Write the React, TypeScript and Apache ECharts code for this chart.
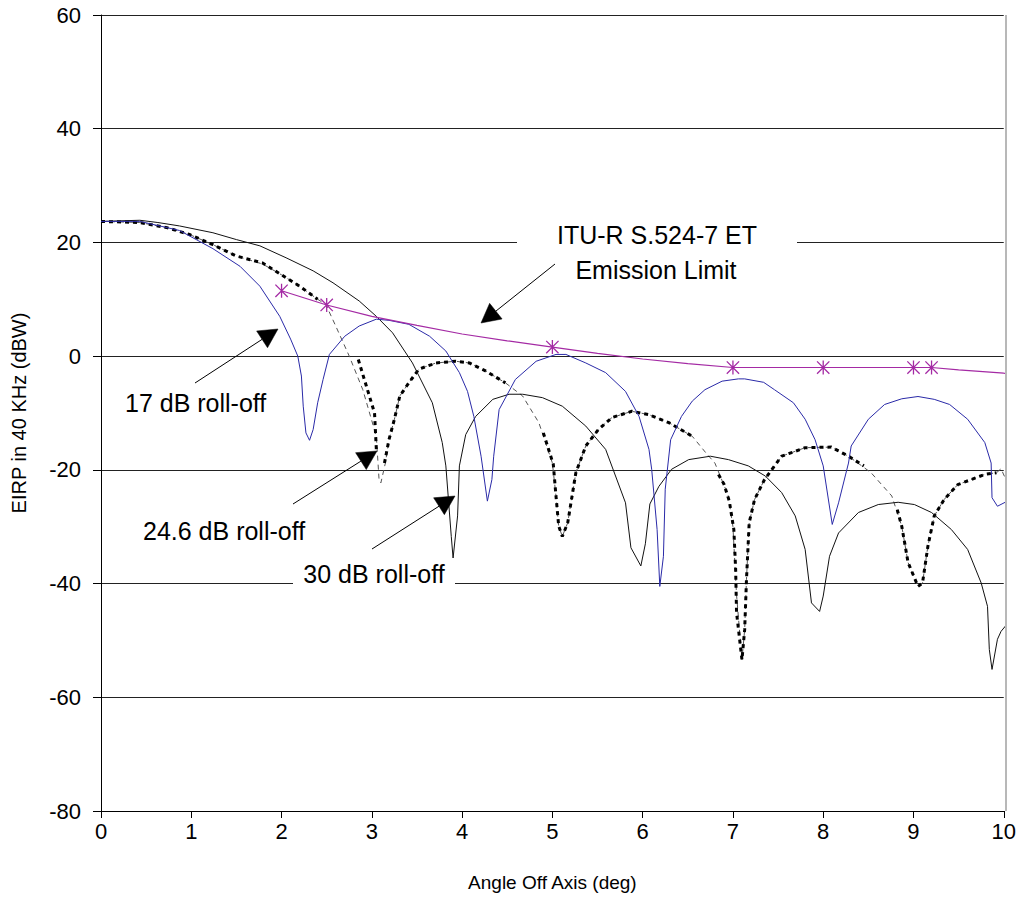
import React, { useEffect, useRef } from "react";
import * as echarts from "echarts";

// ---------- data ----------
const X_TICKS_MIN = 0;
const X_TICKS_MAX = 10;
const Y_MIN = -80;
const Y_MAX = 60;

// 17 dB roll-off (blue)
const ROLLOFF_17: [number, number][] = [
  [0, 23.7], [0.43, 23.7], [0.87, 22.1], [1.24, 18.9], [1.54, 15.8], [1.76, 12.3], [1.98, 7.0],
  [2.1, 3.0], [2.18, 0], [2.22, -3.5], [2.24, -8.8], [2.27, -13.5], [2.31, -14.8], [2.35, -12.9],
  [2.4, -8.2], [2.46, -4.1], [2.53, 0.3], [2.7, 3.5], [2.86, 5.3], [3.05, 6.5], [3.19, 6.3],
  [3.41, 5.6], [3.64, 3.5], [3.82, 0.9], [3.97, -2.9], [4.06, -6.2], [4.13, -10.6], [4.21, -17.6],
  [4.28, -25.5], [4.33, -21.7], [4.35, -17.6], [4.41, -9.4], [4.59, -4.1], [4.82, -0.9], [5.04, 0.3],
  [5.15, 0.3], [5.37, -1.2], [5.59, -2.9], [5.81, -6.2], [5.96, -10.6], [6.07, -16.4], [6.1, -19.9],
  [6.16, -30.5], [6.19, -40.5], [6.23, -35.2], [6.25, -23.4], [6.31, -14.7], [6.43, -10.6], [6.55, -7.9],
  [6.69, -5.9], [6.88, -4.4], [7.06, -4.0], [7.13, -4.0], [7.34, -4.6], [7.46, -5.9], [7.67, -8.2],
  [7.8, -11.1], [7.91, -14.7], [8.0, -19.3], [8.1, -29.6], [8.17, -25.8], [8.28, -18.8], [8.31, -15.8],
  [8.5, -11.1], [8.68, -8.5], [8.87, -7.5], [9.05, -7.1], [9.23, -7.6], [9.4, -8.5], [9.6, -11.1],
  [9.79, -15.2], [9.86, -18.8], [9.87, -24.9], [9.93, -26.4], [10.04, -25.5], [10.09, -24.3],
];

// 30 dB roll-off (black solid)
const ROLLOFF_30: [number, number][] = [
  [0, 23.7], [0.43, 23.9], [0.63, 23.5], [0.87, 22.9], [1.24, 21.7], [1.5, 20.5], [1.76, 19.4],
  [2.05, 17.3], [2.35, 15.0], [2.57, 12.9], [2.86, 9.7], [3.05, 7.0], [3.23, 4.1], [3.45, -1.2],
  [3.67, -8.2], [3.78, -15.2], [3.82, -19.3], [3.88, -31.7], [3.9, -35.5], [3.95, -28.1], [3.97, -19.3],
  [4.04, -13.8], [4.15, -10.6], [4.34, -7.6], [4.52, -6.7], [4.67, -6.7], [4.89, -7.3], [5.11, -8.8],
  [5.37, -12.3], [5.59, -16.4], [5.81, -25.8], [5.87, -33.7], [5.98, -36.9], [6.03, -33.0], [6.08, -26.0],
  [6.18, -22.9], [6.32, -19.9], [6.51, -18.2], [6.75, -17.6], [6.95, -18.2], [7.17, -19.3], [7.36, -21.1],
  [7.54, -24.0], [7.69, -28.1], [7.8, -34.0], [7.87, -43.4], [7.96, -44.9], [8.0, -42.2], [8.07, -35.2],
  [8.17, -31.1], [8.39, -27.5], [8.61, -26.1], [8.83, -25.7], [9.01, -26.1], [9.2, -27.5], [9.42, -30.5],
  [9.6, -34.0], [9.75, -39.9], [9.82, -44.0], [9.84, -51.6], [9.87, -55.1], [9.93, -49.8], [9.97, -48.4],
  [10.08, -46.3],
];

// 24.6 dB roll-off, thin dashed trace (continuous)
const ROLLOFF_24_THIN: [number, number][] = [
  [0, 23.7], [0.43, 23.5], [0.73, 22.6], [0.98, 21.4], [1.24, 19.6], [1.5, 17.6], [1.79, 16.2],
  [2.0, 14.3], [2.2, 12.3], [2.4, 10.0], [2.49, 9.1], [2.6, 5.3], [2.75, 0], [2.9, -5.9], [3.05, -14.1],
  [3.08, -21.7], [3.1, -22.3], [3.15, -18.8], [3.19, -14.7], [3.25, -11.1], [3.31, -7.0], [3.41, -4.7],
  [3.52, -2.3], [3.71, -1.2], [3.93, -0.9], [4.08, -1.2], [4.26, -2.6], [4.48, -4.7], [4.67, -7.0],
  [4.85, -11.7], [5.0, -18.8], [5.04, -24.6], [5.07, -29.9], [5.11, -31.7], [5.17, -29.3], [5.26, -20.5],
  [5.37, -15.8], [5.51, -12.9], [5.66, -10.8], [5.88, -9.7], [6.07, -10.3], [6.29, -11.7], [6.55, -14.1],
  [6.7, -17.0], [6.8, -18.8], [6.95, -24.6], [7.0, -30.0], [7.04, -42.0], [7.1, -53.4], [7.13, -48.1],
  [7.15, -39.3], [7.18, -29.3], [7.24, -25.2], [7.35, -21.7], [7.54, -17.6], [7.8, -16.1], [8.09, -16.0],
  [8.28, -17.6], [8.53, -20.5], [8.76, -24.6], [8.87, -29.9], [8.94, -36.3], [9.05, -40.5], [9.1, -39.9],
  [9.16, -33.4], [9.23, -28.1], [9.34, -25.2], [9.49, -22.6], [9.64, -21.7], [9.79, -20.8], [9.92, -20.5],
  [9.97, -19.8], [10.04, -22.3], [10.08, -24.0],
];

// 24.6 dB roll-off, heavy dotted trace (null = gap)
const ROLLOFF_24_HEAVY: ([number, number] | null)[] = [
  [0, 23.7], [0.43, 23.5], [0.73, 22.6], [0.98, 21.4], [1.24, 19.6], [1.5, 17.6], [1.79, 16.4],
  [2.0, 14.3], [2.2, 12.3], [2.4, 10.0], null,
  [2.85, -0.6], [2.94, -5.3], [3.03, -10.0], [3.05, -16.4], null,
  [3.14, -18.8], [3.19, -14.7], [3.25, -11.1], [3.31, -7.0], [3.41, -4.7], [3.52, -2.3], [3.71, -1.2],
  [3.93, -0.9], [4.08, -1.2], [4.26, -2.6], [4.48, -4.7], null,
  [4.9, -13.5], [5.01, -19.0], [5.04, -24.6], [5.07, -29.9], [5.11, -31.7], [5.17, -29.3], [5.26, -20.5],
  [5.37, -15.8], [5.51, -12.9], [5.66, -10.8], [5.88, -9.7], [6.07, -10.3], [6.29, -11.7], [6.55, -14.1], null,
  [6.84, -20.8], [6.9, -22.5], [6.96, -25.5], [7.01, -30.5], [7.03, -37.5], [7.04, -45.1], [7.1, -53.4],
  [7.13, -48.1], [7.15, -39.3], [7.18, -29.3], [7.24, -25.2], [7.35, -21.7], [7.54, -17.6], [7.8, -16.1],
  [8.09, -16.0], [8.28, -17.6], [8.45, -19.3], null,
  [8.82, -27.0], [8.87, -29.9], [8.94, -36.3], [9.05, -40.5], [9.1, -39.9], [9.16, -33.4], [9.23, -28.1],
  [9.34, -25.2], [9.49, -22.6], [9.64, -21.7], [9.79, -20.8], [9.92, -20.5], null,
  [10.04, -22.3], [10.08, -24.0],
];

// ITU-R S.524-7 ET emission limit (magenta)
const LIMIT_X = [2, 2.5, 3, 3.5, 4, 4.5, 5, 5.5, 6, 6.5, 7, 7.5, 8, 8.5, 9, 9.2, 9.5, 10, 10.1];
const LIMIT_Y = [11.5, 9.0, 7.0, 5.4, 3.9, 2.7, 1.6, 0.5, -0.5, -1.3, -2.0, -2.0, -2.0, -2.0, -2.0, -2.0, -2.4, -3.0, -3.1];
const LIMIT_STAR_X = [2, 2.5, 5, 7, 8, 9, 9.2];

const FONT = '"Liberation Sans", Arial, Helvetica, sans-serif';
const STAR = "path://M5,0L5,10M0.6,0.6L9.4,9.4M0.6,9.4L9.4,0.6";

const GRID = { left: 101, right: 13, top: 15, bottom: 96 };
const W = 1019;
const H = 907;

function arrow(sx: number, sy: number, tx: number, ty: number) {
  const dx = tx - sx, dy = ty - sy;
  const len = Math.hypot(dx, dy);
  const ux = dx / len, uy = dy / len;
  const headLen = 19, halfW = 10;
  const bx = tx - ux * headLen, by = ty - uy * headLen;
  const px = -uy, py = ux;
  return [
    {
      type: "line",
      z: 100,
      shape: { x1: sx, y1: sy, x2: bx, y2: by },
      style: { stroke: "#000", lineWidth: 1 },
    },
    {
      type: "polygon",
      z: 100,
      shape: {
        points: [
          [tx, ty],
          [bx + px * halfW, by + py * halfW],
          [bx - px * halfW, by - py * halfW],
        ],
      },
      style: { fill: "#000", stroke: "#000", lineWidth: 0.5 },
    },
  ];
}

function txt(text: string, x: number, y: number, align: string, size = 25) {
  return {
    type: "text",
    z: 101,
    style: {
      text,
      x,
      y,
      fill: "#000",
      fontSize: size,
      fontFamily: FONT,
      align,
      verticalAlign: "middle",
      textAlign: align,
      textVerticalAlign: "middle",
    },
  };
}

export default function App() {
  const ref = useRef<HTMLDivElement>(null);

  useEffect(() => {
    if (!ref.current) return;
    const chart = echarts.init(ref.current, undefined, { renderer: "svg" });

    // split heavy dotted trace into segments at gaps
    const heavySegments: [number, number][][] = [];
    let cur: [number, number][] = [];
    for (const p of ROLLOFF_24_HEAVY) {
      if (p === null) {
        if (cur.length) heavySegments.push(cur);
        cur = [];
      } else cur.push(p);
    }
    if (cur.length) heavySegments.push(cur);

    const limitData = LIMIT_X.map((x, i) => {
      const isStar = LIMIT_STAR_X.indexOf(x) >= 0;
      return isStar
        ? { value: [x, LIMIT_Y[i]], symbol: STAR, symbolSize: 14 }
        : { value: [x, LIMIT_Y[i]], symbol: "none", symbolSize: 0 };
    });

    const series: any[] = [
      {
        name: "24.6 dB thin",
        type: "line",
        data: ROLLOFF_24_THIN,
        showSymbol: false,
        clip: false,
        z: 2,
        lineStyle: { color: "#555", width: 1, type: [5, 4] },
      },
      ...heavySegments.map((seg, i) => ({
        name: "24.6 dB roll-off " + i,
        type: "line",
        data: seg,
        showSymbol: false,
        clip: false,
        z: 3,
        lineStyle: { color: "#000", width: 3, type: [4, 4] },
      })),
      {
        name: "30 dB roll-off",
        type: "line",
        data: ROLLOFF_30,
        showSymbol: false,
        clip: false,
        z: 4,
        lineStyle: { color: "#111", width: 1 },
      },
      {
        name: "17 dB roll-off",
        type: "line",
        data: ROLLOFF_17,
        showSymbol: false,
        clip: false,
        z: 5,
        lineStyle: { color: "#2a2aa8", width: 1 },
      },
      {
        name: "ITU-R S.524-7 ET Emission Limit",
        type: "line",
        data: limitData,
        showSymbol: true,
        symbolKeepAspect: true,
        clip: false,
        z: 6,
        lineStyle: { color: "#a42aa4", width: 1.2 },
        itemStyle: { color: "transparent", borderColor: "#a42aa4", borderWidth: 1.3 },
      },
    ];

    const rightX = W - GRID.right;
    const graphic: any[] = [
      {
        type: "line",
        z: 1,
        shape: { x1: rightX, y1: GRID.top, x2: rightX, y2: H - GRID.bottom },
        style: { stroke: "#b8b8b8", lineWidth: 2 },
      },
      {
        type: "rect",
        z: 99,
        shape: { x: 517, y: 218, width: 280, height: 66 },
        style: { fill: "#fff" },
      },
      txt("ITU-R S.524-7 ET", 657, 235, "center"),
      txt("Emission Limit", 656, 270, "center"),
      {
        type: "rect",
        z: 99,
        shape: { x: 293, y: 566, width: 162, height: 22 },
        style: { fill: "#fff" },
      },
      txt("30 dB roll-off", 374, 574, "center"),
      txt("17 dB roll-off", 125, 403, "left"),
      txt("24.6 dB roll-off", 143, 531, "left"),
      ...arrow(195, 383, 278, 329),
      ...arrow(555, 264, 481, 323),
      ...arrow(293, 504, 377, 451),
      ...arrow(372, 549, 455, 496),
    ];

    chart.setOption({
      animation: false,
      backgroundColor: "#fff",
      textStyle: { fontFamily: FONT },
      grid: { ...GRID, containLabel: false },
      xAxis: {
        type: "value",
        min: X_TICKS_MIN,
        max: X_TICKS_MAX,
        interval: 1,
        name: "Angle Off Axis (deg)",
        nameLocation: "middle",
        nameGap: 62,
        nameTextStyle: { fontSize: 19, color: "#000", fontFamily: FONT },
        axisLine: { show: true, onZero: false, lineStyle: { color: "#000", width: 1 } },
        axisTick: { show: true, length: 7, lineStyle: { color: "#000" } },
        axisLabel: { fontSize: 22, color: "#000", margin: 9, fontFamily: FONT },
        splitLine: { show: false },
      },
      yAxis: {
        type: "value",
        min: Y_MIN,
        max: Y_MAX,
        interval: 20,
        name: "EIRP in 40 KHz (dBW)",
        nameLocation: "middle",
        nameGap: 72,
        nameTextStyle: { fontSize: 20, color: "#000", fontFamily: FONT },
        axisLine: { show: true, onZero: false, lineStyle: { color: "#000", width: 1 } },
        axisTick: { show: true, length: 8, lineStyle: { color: "#000" } },
        axisLabel: { fontSize: 22, color: "#000", margin: 20, fontFamily: FONT },
        splitLine: { show: true, lineStyle: { color: "#222", width: 1 } },
      },
      series,
      graphic,
    });

    return () => chart.dispose();
  }, []);

  return (
    <div
      ref={ref}
      style={{ position: "fixed", left: 0, top: 0, width: W, height: H, background: "#fff" }}
    />
  );
}
